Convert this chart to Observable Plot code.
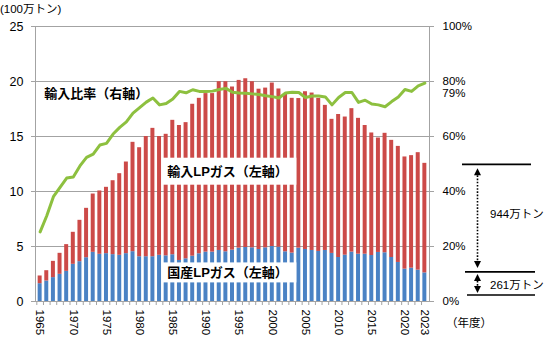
<!DOCTYPE html>
<html><head><meta charset="utf-8">
<script src="https://cdn.jsdelivr.net/npm/d3@7"></script>
<script src="https://cdn.jsdelivr.net/npm/@observablehq/plot@0.6"></script>
<style>body{margin:0;background:#fff;} svg{display:block}</style>
</head><body><div id="chart"></div>
<script>
const years = [1965,1966,1967,1968,1969,1970,1971,1972,1973,1974,1975,1976,1977,1978,1979,1980,1981,1982,1983,1984,1985,1986,1987,1988,1989,1990,1991,1992,1993,1994,1995,1996,1997,1998,1999,2000,2001,2002,2003,2004,2005,2006,2007,2008,2009,2010,2011,2012,2013,2014,2015,2016,2017,2018,2019,2020,2021,2022,2023];
// 国産LPガス (100万トン)
const domestic = [1.62,1.86,2.17,2.47,2.74,3.38,3.62,3.98,4.47,4.29,4.35,4.26,4.20,4.35,4.53,4.07,4.07,4.07,4.20,4.15,4.25,3.73,3.88,4.12,4.34,4.49,4.49,4.64,4.52,4.67,4.85,4.91,4.88,4.73,4.88,5.00,4.94,4.52,4.40,4.85,4.73,4.64,4.55,4.64,4.37,4.00,4.21,4.49,4.30,4.30,4.18,4.46,4.43,4.00,3.55,2.94,3.03,2.85,2.60];
// 輸入LPガス (100万トン)
const imported = [0.70,0.94,1.48,1.91,2.43,2.91,3.76,4.49,5.30,5.76,6.03,6.72,7.42,8.33,9.94,9.91,10.93,11.67,10.80,11.05,12.22,12.27,12.38,13.81,14.13,14.41,14.41,15.34,15.46,14.83,15.25,15.34,15.10,14.57,14.52,14.86,14.38,14.38,14.07,13.60,14.34,14.31,13.92,13.19,12.19,13.00,12.56,13.04,12.35,11.70,11.14,10.40,10.86,10.65,10.55,10.20,10.23,10.68,9.96];
// 輸入比率 (%)
const importRatio = [25.3,31.2,38.1,41.5,44.9,45.3,49.3,52.4,53.6,56.9,57.5,60.9,63.3,65.3,68.5,70.5,72.5,74.0,71.5,72.0,73.6,76.4,75.9,77.0,76.4,76.4,76.5,77.1,77.5,76.1,75.8,75.7,75.5,75.3,74.8,74.5,74.0,75.8,76.1,76.0,74.2,74.7,74.7,74.4,71.5,74.2,76.0,76.0,72.4,73.2,71.8,71.5,70.8,72.7,74.4,77.1,76.4,78.4,79.4];
const leftTicks = [0,5,10,15,20,25];
const rightTicks = [0,20,40,60,80,100];
const yearLabels = [1965,1970,1975,1980,1985,1990,1995,2000,2005,2010,2015,2020,2023];
const unitLabel = "(100万トン)";
const yearUnit = "（年度）";
const ratioLabel = "輸入比率（右軸）";
const importLabel = "輸入LPガス（左軸）";
const domesticLabel = "国産LPガス（左軸）";
const amountLabels = ["944万トン", "261万トン"];

const BLUE = "#4a82c4", RED = "#cc4a48", GREEN = "#8dc03f", GRID = "#a3a3a3";
const FONT = '"Liberation Sans", "Noto Sans CJK JP", sans-serif';

const rows = years.flatMap((y, i) => [
  {year: String(y), kind: "国産", value: domestic[i]},
  {year: String(y), kind: "輸入", value: imported[i]}
]);
const ratioRows = years.map((y, i) => ({year: String(y), ratio: importRatio[i]}));
const lastRow = ratioRows[ratioRows.length - 1];
const step = 394 / 59.4;

const plot = Plot.plot({
  width: 548, height: 338,
  marginLeft: 35, marginRight: 119, marginTop: 26, marginBottom: 37,
  style: {fontFamily: FONT, fontSize: "12px", color: "#000", background: "#fff"},
  x: {type: "band", domain: years.map(String), padding: 0.4, label: null},
  y: {domain: [0, 25], label: null},
  color: {domain: ["国産", "輸入"], range: [BLUE, RED]},
  marks: [
    Plot.gridY(leftTicks.slice(1, -1), {stroke: GRID, strokeOpacity: 1}),
    Plot.barY(rows, {x: "year", y: "value", fill: "kind"}),
    Plot.lineY(ratioRows, {x: "year", y: d => d.ratio / 4, stroke: GREEN, strokeWidth: 3, strokeLinejoin: "round"}),
    Plot.frame({stroke: GRID}),
    Plot.axisY(leftTicks, {anchor: "left", tickSize: 4, tickPadding: 8, fontSize: 12.5, stroke: GRID, fill: "#000", label: null}),
    Plot.axisY(rightTicks.map(v => v / 4), {anchor: "right", tickSize: 4, tickPadding: 9, fontSize: 11.5, stroke: GRID, fill: "#000", tickFormat: d => `${d * 4}%`, label: null}),
    Plot.axisX(years.map(String), {tickSize: 4, tickFormat: () => "", dx: -step / 2, stroke: GRID, label: null}),
    Plot.axisX(yearLabels.map(String), {tickSize: 0, tickRotate: 90, tickPadding: 8, fontSize: 11.5, fill: "#000", label: null}),
    Plot.text([lastRow], {x: "year", y: d => d.ratio / 4, text: d => `${Math.round(d.ratio)}%`, dx: 17.5, dy: 10, textAnchor: "start", fontSize: 11.5})
  ]
});

const svg = d3.select(plot);
const xs = plot.scale("x"), ys = plot.scale("y");
const g = svg.append("g").attr("font-family", FONT).attr("text-anchor", "start");

// white label boxes over the bars
const bx1 = xs.apply("1984") - 1, bx2 = xs.apply("2004");
[{label: importLabel, y: 11.8, h: 27}, {label: domesticLabel, y: 2.6, h: 20}].forEach(b => {
  const yc = ys.apply(b.y);
  g.append("rect").attr("x", bx1).attr("y", yc - b.h / 2).attr("width", bx2 - bx1).attr("height", b.h).attr("fill", "#fff");
  g.append("text").attr("x", (bx1 + bx2) / 2 - 2).attr("y", yc).attr("dy", "0.36em")
    .attr("text-anchor", "middle").attr("font-size", 13).attr("font-weight", "bold").text(b.label);
});
g.append("text").attr("x", xs.apply("1966")).attr("y", ys.apply(18.9)).attr("dy", "0.36em")
  .attr("text-anchor", "start").attr("font-size", 13).attr("font-weight", "bold").text(ratioLabel);

// axis captions
g.append("text").attr("x", 0).attr("y", 9).attr("dy", "0.36em").attr("text-anchor", "start").attr("font-size", 11.5).text(unitLabel);
g.append("text").attr("x", 446).attr("y", 323).attr("dy", "0.36em").attr("text-anchor", "start").attr("font-size", 11.5).text(yearUnit);

// right-side bracket annotation
const n = years.length - 1;
const topY = ys.apply(domestic[n] + imported[n]) + 1.5;
const midY = ys.apply(domestic[n]) - 0.5;
const botY = ys.apply(0) - 6;
const ax = 477.5;
[[462, 531, topY], [465, 535, midY], [467, 535, botY]].forEach(([a, b, y]) => {
  g.append("line").attr("x1", a).attr("x2", b).attr("y1", y).attr("y2", y).attr("stroke", "#000").attr("stroke-width", 1.6);
});
function arrow(yTip, dir) { // dir -1 up, +1 down
  const h = 7, w = 3.5;
  g.append("path").attr("d", `M${ax},${yTip}L${ax - w},${yTip - dir * h}L${ax + w},${yTip - dir * h}Z`).attr("fill", "#000");
}
function dotted(y1, y2) {
  g.append("line").attr("x1", ax).attr("x2", ax).attr("y1", y1).attr("y2", y2)
    .attr("stroke", "#000").attr("stroke-width", 1.6).attr("stroke-dasharray", "1.6,1.6");
}
arrow(topY + 4, -1); dotted(topY + 11, midY - 11); arrow(midY - 4, 1);
arrow(midY + 2, -1); dotted(midY + 9, botY - 9); arrow(botY - 2, 1);
g.append("text").attr("x", 490).attr("y", (topY + midY) / 2 - 4).attr("dy", "0.36em").attr("text-anchor", "start").attr("font-size", 11.5).text(amountLabels[0]);
g.append("text").attr("x", 490).attr("y", (midY + botY) / 2 + 1).attr("dy", "0.36em").attr("text-anchor", "start").attr("font-size", 11.5).text(amountLabels[1]);

document.getElementById("chart").appendChild(plot);
</script>
</body></html>
